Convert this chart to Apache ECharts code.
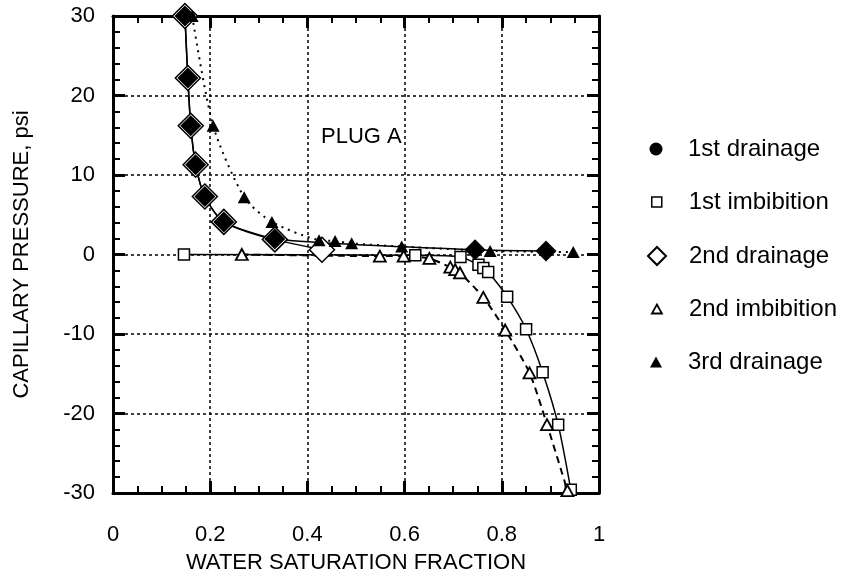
<!DOCTYPE html>
<html>
<head>
<meta charset="utf-8">
<script src="https://cdn.jsdelivr.net/npm/echarts@6/dist/echarts.min.js"></script>
<style>
  html, body { margin: 0; padding: 0; background: #fff; }
  #chart { width: 855px; height: 579px; }
</style>
</head>
<body>
<div id="chart"></div>
<script>
// values, [water saturation, capillary pressure psi]
const drainage1 = [[0.148, 30], [0.154, 22.2], [0.160, 16.2], [0.170, 11.3], [0.189, 7.3], [0.228, 4.1], [0.333, 1.95], [0.745, 0.6], [0.891, 0.45]]
const drainage2 = [[0.148, 30], [0.154, 22.2], [0.160, 16.2], [0.170, 11.3], [0.189, 7.3], [0.228, 4.1], [0.333, 1.9], [0.430, 0.6]]
const imbibition1 = [[0.146, 0], [0.622, -0.1], [0.715, -0.3], [0.752, -1.3], [0.762, -1.7], [0.772, -2.2], [0.811, -5.3], [0.850, -9.4], [0.884, -14.8], [0.916, -21.4], [0.942, -29.6]]
const imbibition2 = [[0.265, 0], [0.549, -0.2], [0.598, -0.2], [0.651, -0.5], [0.694, -1.6], [0.704, -1.9], [0.714, -2.3], [0.762, -5.4], [0.807, -9.5], [0.857, -14.9], [0.893, -21.4], [0.935, -29.7]]
const drainage3 = [[0.163, 30], [0.206, 16.2], [0.270, 7.2], [0.327, 4.1], [0.424, 1.8], [0.457, 1.7], [0.491, 1.4], [0.594, 1.0], [0.776, 0.45], [0.947, 0.3]]

const legendNames = ['1st drainage', '1st imbibition', '2nd drainage', '2nd imbibition', '3rd drainage']
const xName = 'WATER SATURATION FRACTION'
const yName = 'CAPILLARY PRESSURE, psi'
const plugLabel = 'PLUG A'

const font = '"Liberation Sans", Arial, Helvetica, sans-serif'
const black = '#000'

const frameAxis = (extra) => Object.assign({
  type: 'value',
  axisLine: { show: true, onZero: false, lineStyle: { color: black, width: 3 } },
  axisTick: { show: true, inside: true, length: 12, lineStyle: { color: black, width: 3 } },
  minorSplitLine: { show: false }
}, extra)

const gridLine = { show: true, lineStyle: { color: black, width: 1.5, type: [3, 3] } }
const labelStyle = { color: black, fontSize: 22, fontFamily: font }

// one legend per row so each icon keeps its own size
const legendRows = [
  { name: legendNames[0], icon: 'circle', w: 13, h: 13, y: 149, style: { color: black, borderWidth: 0 } },
  { name: legendNames[1], icon: 'rect', w: 10, h: 10, y: 202, style: { color: '#fff', borderColor: black, borderWidth: 1.5 } },
  { name: legendNames[2], icon: 'diamond', w: 18, h: 18, y: 256, style: { color: '#fff', borderColor: black, borderWidth: 2 } },
  { name: legendNames[3], icon: 'triangle', w: 10, h: 9, y: 309, style: { color: '#fff', borderColor: black, borderWidth: 1.8 } },
  { name: legendNames[4], icon: 'triangle', w: 12, h: 11, y: 362, style: { color: black, borderWidth: 0 } }
]

const legends = legendRows.map(r => ({
  orient: 'vertical',
  left: 656 - r.w / 2,
  top: r.y - 13,
  padding: 0,
  itemWidth: r.w,
  itemHeight: r.h,
  selectedMode: false,
  itemStyle: r.style,
  data: [{ name: r.name, icon: r.icon }],
  formatter: n => '{g|}' + n,
  textStyle: {
    color: black, fontSize: 24, fontFamily: font, lineHeight: 26,
    rich: { g: { width: 32 - r.w / 2 - 5 } }
  }
}))

const chart = echarts.init(document.getElementById('chart'), null, { renderer: 'canvas' })

chart.setOption({
  animation: false,
  backgroundColor: '#fff',
  title: {
    text: plugLabel, left: 321, top: 126, padding: 0,
    textStyle: { color: black, fontSize: 22, fontWeight: 'normal', fontFamily: font }
  },
  legend: legends,
  grid: { left: 113, right: 256, top: 16, bottom: 86, outerBoundsMode: 'none' },
  xAxis: [
    frameAxis({
      position: 'bottom', min: 0, max: 1, interval: 0.2,
      minorTick: { show: true, splitNumber: 4, length: 7, lineStyle: { color: black, width: 2 } },
      splitLine: gridLine,
      axisLabel: Object.assign({ margin: 31 }, labelStyle),
      name: xName, nameLocation: 'middle', nameGap: 59,
      nameTextStyle: { color: black, fontSize: 22, fontFamily: font }
    }),
    frameAxis({
      position: 'top', min: 0, max: 1, interval: 0.2,
      minorTick: { show: true, splitNumber: 4, length: 7, lineStyle: { color: black, width: 2 } },
      splitLine: { show: false },
      axisLabel: { show: false }
    })
  ],
  yAxis: [
    frameAxis({
      position: 'left', min: -30, max: 30, interval: 10,
      minorTick: { show: true, splitNumber: 5, length: 7, lineStyle: { color: black, width: 2 } },
      splitLine: gridLine,
      axisLabel: Object.assign({ margin: 18 }, labelStyle),
      name: yName, nameLocation: 'middle', nameGap: 80,
      nameTextStyle: { color: black, fontSize: 22, fontFamily: font }
    }),
    frameAxis({
      position: 'right', min: -30, max: 30, interval: 10,
      minorTick: { show: true, splitNumber: 5, length: 7, lineStyle: { color: black, width: 2 } },
      splitLine: { show: false },
      axisLabel: { show: false }
    })
  ],
  series: [
    {
      name: legendNames[2], type: 'line', data: drainage2, smooth: 0.25, clip: false,
      symbol: 'diamond', symbolSize: 25,
      itemStyle: { color: '#fff', borderColor: black, borderWidth: 1.5 },
      lineStyle: { color: black, width: 1.5 }
    },
    {
      name: legendNames[0], type: 'line', data: drainage1, smooth: 0.25, clip: false,
      symbol: 'diamond', symbolSize: 21,
      itemStyle: { color: black, borderWidth: 0 },
      lineStyle: { color: black, width: 1.5 }
    },
    {
      name: legendNames[1], type: 'line', data: imbibition1, smooth: 0.25, clip: false,
      symbol: 'rect', symbolSize: 11,
      itemStyle: { color: '#fff', borderColor: black, borderWidth: 1.5 },
      lineStyle: { color: black, width: 1.5 }
    },
    {
      name: legendNames[3], type: 'line', data: imbibition2, smooth: 0.25, clip: false,
      symbol: 'triangle', symbolSize: [12, 11],
      itemStyle: { color: '#fff', borderColor: black, borderWidth: 1.8 },
      lineStyle: { color: black, width: 2, type: [7, 5] }
    },
    {
      name: legendNames[4], type: 'line', data: drainage3, smooth: 0.25, clip: false,
      symbol: 'triangle', symbolSize: [13, 12],
      itemStyle: { color: black, borderWidth: 0 },
      lineStyle: { color: black, width: 2, type: [2, 5] }
    }
  ]
})
</script>
</body>
</html>
